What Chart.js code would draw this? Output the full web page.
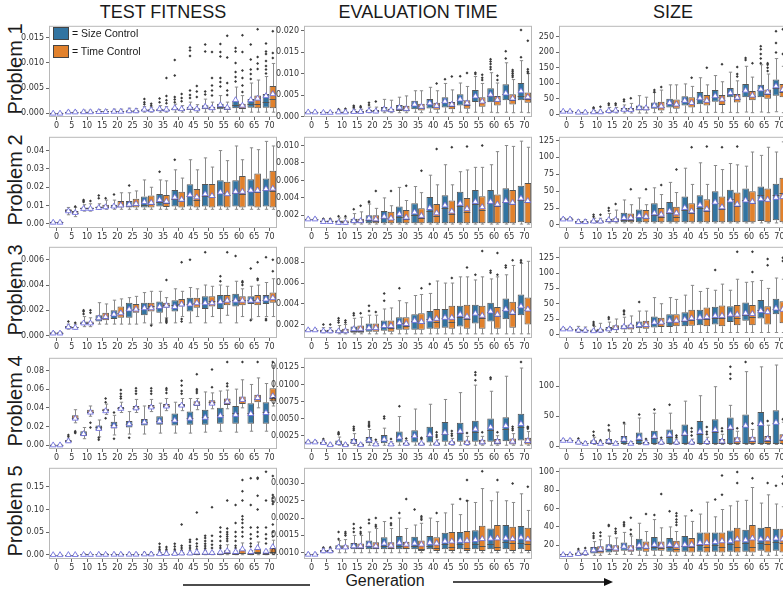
<!DOCTYPE html>
<html>
<head>
<meta charset="utf-8">
<script src="https://cdn.jsdelivr.net/npm/chart.js@4.4.0/dist/chart.umd.min.js"></script>
<style>
  html, body { margin: 0; padding: 0; background: #fff; overflow: hidden; }
  #fig { position: relative; width: 783px; height: 594px; overflow: hidden; font-family: "Liberation Sans", Arial, sans-serif; color: #1a1a1a; }
  .title { position: absolute; top: 2px; font-size: 18px; line-height: 20px; transform: translateX(-50%); white-space: nowrap; }
  .rowlab { position: absolute; left: 15px; font-size: 20px; line-height: 20px; white-space: nowrap; transform: translate(-50%, -50%) rotate(-90deg); }
  .sw { position: absolute; left: 53px; width: 16px; height: 13px; border: 1px solid #444; box-sizing: border-box; }
  .lg { position: absolute; left: 72px; font-size: 10.5px; line-height: 13px; white-space: nowrap; }
  #gen { position: absolute; left: 385px; top: 572px; font-size: 16px; line-height: 18px; transform: translateX(-50%); }
  canvas { position: absolute; }
</style>
</head>
<body>
<div id="fig">
  <div class="title" style="left:163px">TEST FITNESS</div>
  <div class="title" style="left:418px">EVALUATION TIME</div>
  <div class="title" style="left:673px">SIZE</div>
  <div class="rowlab" style="top:69px">Problem 1</div>
  <div class="rowlab" style="top:180px">Problem 2</div>
  <div class="rowlab" style="top:290px">Problem 3</div>
  <div class="rowlab" style="top:401px">Problem 4</div>
  <div class="rowlab" style="top:511px">Problem 5</div>
  <div id="gen">Generation</div>
  <svg style="position:absolute;left:0;top:0" width="783" height="594">
    <line x1="183" y1="585" x2="310" y2="585" stroke="#111" stroke-width="1.5"/>
    <line x1="453" y1="582" x2="604" y2="582" stroke="#111" stroke-width="1.5"/>
    <polygon points="604,578 613,582 604,586" fill="#111"/>
  </svg>
</div>
<script>
const generations = ['0', '5', '10', '15', '20', '25', '30', '35', '40', '45', '50', '55', '60', '65', '70'];
const seriesNames = ['Size Control', 'Time Control'];

// each row: [low whisker, q1, median, q3, high whisker, mean], one per generation
// outliers: [generation, series (0 size, 1 time), values...]

// ---- TEST FITNESS ----
const fit1Size = [
  [0,0,0,0.00002,0.00005,0.00002],[0.0001,0.0002,0.00025,0.0003,0.0005,0.00027],[0.0001,0.00025,0.0003,0.00035,0.0006,0.0003],[0.0001,0.0003,0.00035,0.0004,0.0007,0.00035],[0.0001,0.0003,0.0004,0.0005,0.0008,0.0004],
  [0.0001,0.0004,0.0005,0.0006,0.001,0.0005],[0.0002,0.0005,0.0006,0.0008,0.0013,0.0008],[0.0002,0.0005,0.0007,0.0009,0.0015,0.0009],[0.0002,0.0006,0.0008,0.0011,0.0018,0.0011],[0.0002,0.0007,0.0009,0.0013,0.0022,0.0012],
  [0.0002,0.0008,0.001,0.0016,0.0028,0.0014],[0.0002,0.0008,0.0012,0.0019,0.0035,0.0017],[0.0002,0.001,0.0016,0.0025,0.0052,0.0027],[0.0002,0.0011,0.0018,0.0028,0.006,0.0027],[0.0002,0.0011,0.0022,0.0038,0.0073,0.0035]
];
const fit1Time = [
  [0,0,0,0.00002,0.00005,0.00002],[0.0001,0.0002,0.00025,0.0003,0.0005,0.00027],[0.0001,0.00025,0.0003,0.00035,0.0006,0.0003],[0.0001,0.0003,0.00035,0.0004,0.0007,0.00035],[0.0001,0.0003,0.0004,0.0005,0.0008,0.0004],
  [0.0001,0.0004,0.0005,0.0006,0.0009,0.0005],[0.0002,0.0005,0.0006,0.0008,0.0012,0.0007],[0.0002,0.0005,0.0006,0.0008,0.0013,0.0008],[0.0002,0.0005,0.0007,0.0009,0.0015,0.0009],[0.0002,0.0006,0.0008,0.001,0.0017,0.0009],
  [0.0002,0.0007,0.0009,0.0013,0.0022,0.0011],[0.0002,0.0007,0.0009,0.0013,0.0022,0.0012],[0.0002,0.0008,0.0011,0.0019,0.0035,0.0016],[0.0002,0.001,0.0019,0.0035,0.0066,0.003],[0.0002,0.001,0.0028,0.0054,0.0099,0.0039]
];
const fit1Out = [
  [30,0,0.0028,0.0022,0.0018],[30,1,0.0019,0.0015],[35,0,0.0029,0.0022],[35,1,0.007,0.0034,0.0026,0.002],
  [40,0,0.0106,0.0075,0.0032,0.0027,0.0022],[40,1,0.0038,0.003,0.0024],[45,0,0.0131,0.0125,0.0114,0.0045,0.0036,0.003],[45,1,0.0054,0.0043,0.0032],
  [50,0,0.0137,0.0123,0.0043,0.0037],[50,1,0.0122,0.007,0.0055,0.0045,0.0035],[55,0,0.0138,0.0122,0.0113,0.007,0.0062,0.0053],[55,1,0.0154,0.0111,0.006,0.0045,0.0036],
  [60,0,0.013,0.0123,0.01,0.0082,0.0072,0.0063],[60,1,0.0155,0.0122,0.0085,0.007,0.0055,0.0042],[65,0,0.0137,0.0107,0.0087,0.0078,0.0068],[65,1,0.0167,0.0112,0.0099,0.0088],
  [70,0,0.0139,0.0123,0.0118,0.0104,0.0094,0.0087,0.0079],[70,1,0.0163,0.012,0.011]
];
const fit1Ticks = [0, 0.005, 0.010, 0.015];

const fit2Size = [
  [0.0005,0.0008,0.001,0.0012,0.0014,0.001],[0.005,0.0065,0.0075,0.008,0.009,0.0072],[0.007,0.008,0.0085,0.009,0.0105,0.0085],[0.008,0.0085,0.009,0.0095,0.011,0.009],[0.008,0.009,0.0095,0.0105,0.013,0.0098],
  [0.008,0.009,0.01,0.0125,0.017,0.0108],[0.008,0.009,0.0105,0.015,0.024,0.0122],[0.008,0.0095,0.012,0.0163,0.024,0.0133],[0.008,0.0095,0.0135,0.0185,0.0295,0.0147],[0.008,0.0095,0.015,0.0217,0.035,0.016],
  [0.008,0.0095,0.0155,0.0218,0.036,0.0165],[0.008,0.0095,0.017,0.0238,0.04,0.0175],[0.008,0.0095,0.017,0.0238,0.0425,0.0178],[0.008,0.0095,0.018,0.0244,0.0415,0.0185],[0.008,0.0095,0.0185,0.0248,0.045,0.0193]
];
const fit2Time = [
  [0.0005,0.0008,0.001,0.0012,0.0014,0.001],[0.004,0.0055,0.006,0.007,0.009,0.0063],[0.007,0.008,0.0085,0.009,0.011,0.0085],[0.008,0.0088,0.0092,0.0105,0.013,0.0094],[0.008,0.009,0.0098,0.0125,0.017,0.0104],
  [0.008,0.009,0.0105,0.0138,0.018,0.0112],[0.008,0.009,0.011,0.0155,0.02,0.0118],[0.008,0.0092,0.0115,0.0158,0.0235,0.0125],[0.008,0.009,0.0125,0.0175,0.025,0.0135],[0.008,0.009,0.013,0.019,0.0295,0.0148],
  [0.008,0.009,0.0145,0.0218,0.031,0.0155],[0.008,0.009,0.016,0.023,0.0345,0.0165],[0.008,0.009,0.0165,0.0262,0.035,0.0178],[0.008,0.009,0.0175,0.0275,0.0405,0.0185],[0.008,0.009,0.018,0.029,0.0425,0.0195]
];
const fit2Out = [
  [5,1,0.0095],[10,0,0.013,0.0125,0.012],[10,1,0.0125],[15,0,0.0155,0.014],[15,1,0.014],[20,0,0.016],[25,0,0.021],[35,0,0.0285],[40,0,0.035]
];
const fit2Ticks = [0, 0.01, 0.02, 0.03, 0.04];

const fit3Size = [
  [0.0001,0.00015,0.0002,0.00025,0.0003,0.0002],[0.0005,0.0006,0.0007,0.00075,0.0009,0.0007],[0.0007,0.0009,0.001,0.0011,0.0015,0.001],[0.0009,0.0011,0.0013,0.0016,0.0026,0.0014],[0.0009,0.0013,0.0016,0.002,0.0028,0.0017],
  [0.0009,0.0014,0.002,0.0026,0.003,0.0021],[0.001,0.0016,0.0022,0.0026,0.0034,0.0022],[0.001,0.0018,0.0022,0.0027,0.0035,0.0023],[0.001,0.0019,0.0024,0.0028,0.0037,0.0023],[0.001,0.0019,0.0025,0.003,0.0038,0.0025],
  [0.001,0.0021,0.0026,0.0031,0.004,0.0026],[0.001,0.0021,0.0027,0.0032,0.004,0.0027],[0.001,0.0023,0.0028,0.0033,0.0043,0.0028],[0.0013,0.0025,0.0028,0.0031,0.0039,0.0028],[0.0015,0.0025,0.0028,0.0032,0.0042,0.0029]
];
const fit3Time = [
  [0.0001,0.00015,0.0002,0.00025,0.0003,0.0002],[0.0005,0.0006,0.00065,0.0007,0.0009,0.00065],[0.0007,0.0009,0.001,0.0011,0.0014,0.001],[0.0009,0.0012,0.0014,0.0018,0.0025,0.0015],[0.0009,0.0014,0.0018,0.0023,0.0029,0.0018],
  [0.0009,0.0018,0.0021,0.0025,0.0031,0.0021],[0.0009,0.0019,0.0023,0.0026,0.0035,0.0022],[0.0014,0.0022,0.0024,0.0026,0.003,0.0024],[0.0015,0.0023,0.0025,0.0029,0.0035,0.0025],[0.0015,0.0022,0.0026,0.003,0.0037,0.0026],
  [0.0015,0.0023,0.0027,0.0031,0.0039,0.0026],[0.0016,0.0024,0.0027,0.0032,0.0039,0.0028],[0.0015,0.0024,0.0028,0.0031,0.0037,0.0028],[0.0015,0.0024,0.0028,0.0032,0.004,0.0028],[0.0015,0.0026,0.0029,0.0034,0.0045,0.003]
];
const fit3Out = [
  [5,0,0.0011],[5,1,0.001],[10,0,0.002,0.0019,0.0017],[10,1,0.002,0.0018],[30,1,0.0008],[35,1,0.0044,0.0013,0.0012,0.0011,0.001],[40,1,0.0058,0.0013,0.0011],
  [45,0,0.006],[50,0,0.0066],[55,0,0.0047,0.0043],[55,1,0.0066],[60,0,0.0063],[60,1,0.0043,0.0042,0.004],[65,0,0.0053,0.0012],[65,1,0.0058,0.0045,0.0044],[70,0,0.0062,0.0013,0.0012],[70,1,0.006,0.0051]
];
const fit3Ticks = [0, 0.002, 0.004, 0.006];

const fit4Size = [
  [0,0.0003,0.0005,0.0007,0.001,0.0005],[0.003,0.004,0.0048,0.0055,0.0065,0.0048],[0.007,0.01,0.012,0.015,0.019,0.0125],[0.009,0.016,0.019,0.021,0.027,0.018],[0.011,0.018,0.022,0.025,0.032,0.021],
  [0.012,0.019,0.023,0.026,0.036,0.023],[0.012,0.021,0.025,0.028,0.042,0.025],[0.013,0.022,0.026,0.031,0.045,0.026],[0.013,0.021,0.027,0.034,0.046,0.027],[0.013,0.022,0.029,0.036,0.05,0.029],
  [0.014,0.022,0.03,0.038,0.057,0.03],[0.015,0.023,0.032,0.04,0.058,0.032],[0.014,0.023,0.034,0.042,0.06,0.033],[0.015,0.023,0.034,0.045,0.065,0.034],[0.015,0.023,0.036,0.046,0.066,0.035]
];
const fit4Time = [
  [0,0.0003,0.0005,0.0007,0.001,0.0005],[0.024,0.027,0.029,0.032,0.038,0.029],[0.031,0.034,0.036,0.038,0.042,0.0355],[0.033,0.036,0.038,0.039,0.044,0.037],[0.035,0.038,0.04,0.041,0.046,0.0395],
  [0.035,0.038,0.04,0.042,0.049,0.04],[0.036,0.039,0.041,0.043,0.049,0.041],[0.037,0.04,0.042,0.044,0.05,0.042],[0.037,0.041,0.043,0.044,0.05,0.043],[0.038,0.042,0.044,0.047,0.05,0.045],
  [0.039,0.043,0.046,0.048,0.056,0.045],[0.039,0.043,0.046,0.05,0.059,0.047],[0.04,0.044,0.048,0.052,0.07,0.049],[0.04,0.046,0.049,0.054,0.072,0.051],[0.042,0.047,0.05,0.061,0.085,0.053]
];
const fit4Out = [
  [5,0,0.011,0.009],[5,1,0.015,0.014,0.013],[10,1,0.024,0.019],[15,0,0.006,0.008],[15,1,0.05,0.046,0.029],[20,0,0.007,0.035],[20,1,0.059,0.055,0.052,0.05],
  [25,0,0.008],[25,1,0.061,0.058,0.055],[30,1,0.061,0.058,0.055],[35,1,0.061,0.059,0.056],[40,1,0.069,0.064,0.058,0.055],[45,1,0.076,0.06,0.058,0.056],
  [50,1,0.081,0.062],[55,1,0.089,0.066,0.063],[60,1,0.089],[65,1,0.089],[70,1,0.089]
];
const fit4Ticks = [0, 0.02, 0.04, 0.06, 0.08];

const fit5Size = [
  [0,0,0,0.0005,0.001,0.0003],[0,0,0.0003,0.0008,0.0015,0.0005],[0,0.0002,0.0005,0.001,0.002,0.0008],[0,0.0002,0.0006,0.0012,0.0025,0.001],[0,0.0003,0.0008,0.0015,0.003,0.0012],
  [0,0.0003,0.0009,0.0017,0.0035,0.0013],[0,0.0004,0.001,0.002,0.004,0.0018],[0,0.0004,0.0011,0.0022,0.0045,0.0025],[0,0.0005,0.0012,0.0025,0.005,0.003],[0,0.0005,0.0013,0.0028,0.0055,0.004],
  [0,0.0005,0.0015,0.003,0.0065,0.0055],[0,0.0005,0.0016,0.0035,0.007,0.006],[0,0.0005,0.0018,0.004,0.008,0.007],[0,0.0005,0.002,0.0045,0.009,0.007],[0,0.0005,0.002,0.005,0.01,0.008]
];
const fit5Time = [
  [0,0,0,0.0005,0.001,0.0003],[0,0,0.0003,0.0008,0.0015,0.0005],[0,0.0002,0.0005,0.001,0.002,0.0008],[0,0.0002,0.0006,0.0012,0.0025,0.001],[0,0.0003,0.0008,0.0015,0.003,0.0012],
  [0,0.0003,0.0009,0.0017,0.0035,0.0013],[0,0.0004,0.001,0.002,0.004,0.0018],[0,0.0004,0.0011,0.0022,0.0045,0.003],[0,0.0005,0.0012,0.0025,0.005,0.004],[0,0.0005,0.0013,0.0028,0.0055,0.006],
  [0,0.0005,0.0015,0.003,0.0065,0.005],[0,0.001,0.003,0.01,0.022,0.009],[0,0.0015,0.004,0.012,0.026,0.013],[0,0.0015,0.005,0.013,0.028,0.016],[0,0.002,0.005,0.015,0.032,0.018]
];
const fit5Out = [
  [30,0,0.005],[30,1,0.005],[35,0,0.024,0.017,0.012,0.008],[35,1,0.017,0.012,0.008],[40,0,0.024,0.018,0.012,0.008],[40,1,0.067,0.02,0.015,0.01],
  [45,0,0.033,0.028,0.02,0.015,0.01],[45,1,0.093,0.034,0.025,0.018,0.012],[50,0,0.042,0.037,0.03,0.024,0.019,0.014,0.01],[50,1,0.105,0.042,0.03,0.022,0.015],
  [55,0,0.06,0.05,0.04,0.03,0.02,0.015],[55,1,0.12,0.058,0.05,0.045,0.04,0.035,0.03],[60,0,0.11,0.07,0.05,0.04,0.03,0.02,0.015],[60,1,0.165,0.14,0.12,0.085,0.078,0.07,0.06,0.05,0.04],
  [65,0,0.169,0.11,0.06,0.045,0.035,0.025,0.018],[65,1,0.17,0.168,0.13,0.1,0.06,0.05,0.04],[70,0,0.183,0.12,0.06,0.045,0.035,0.025],[70,1,0.174,0.132,0.125,0.118,0.112,0.067,0.05,0.04]
];
const fit5Ticks = [0, 0.05, 0.10, 0.15];

// ---- EVALUATION TIME ----
const eval1Size = [
  [0.001,0.0011,0.0011,0.0012,0.0012,0.0011],[0.0009,0.001,0.001,0.0011,0.0012,0.001],[0.0009,0.001,0.0011,0.0012,0.0015,0.0011],[0.0009,0.001,0.0011,0.0013,0.0016,0.0012],[0.0009,0.0011,0.0013,0.0016,0.0022,0.0014],
  [0.0009,0.0012,0.0015,0.0022,0.004,0.0018],[0.0009,0.0013,0.0018,0.0027,0.0045,0.0022],[0.001,0.0017,0.0026,0.0037,0.006,0.0029],[0.001,0.0019,0.003,0.0041,0.0068,0.0032],[0.001,0.0021,0.0033,0.0045,0.0077,0.0036],
  [0.001,0.0026,0.0038,0.0052,0.0078,0.0041],[0.001,0.0034,0.0045,0.0062,0.0093,0.0048],[0.001,0.0033,0.0048,0.0066,0.0102,0.0052],[0.001,0.0038,0.0052,0.0075,0.0125,0.0055],[0.001,0.0038,0.0048,0.0078,0.013,0.006]
];
const eval1Time = [
  [0.001,0.0011,0.0011,0.0012,0.0012,0.0011],[0.0009,0.001,0.001,0.0011,0.0012,0.001],[0.0009,0.001,0.0011,0.0012,0.0015,0.0011],[0.0009,0.001,0.0011,0.0013,0.0017,0.0012],[0.0009,0.001,0.0012,0.0015,0.0022,0.0013],
  [0.0009,0.0011,0.0013,0.0018,0.0038,0.0016],[0.0009,0.0012,0.0016,0.0025,0.0048,0.0019],[0.0009,0.0014,0.0021,0.003,0.006,0.0024],[0.0009,0.0016,0.0022,0.0032,0.006,0.0026],[0.0009,0.0017,0.0025,0.0034,0.0062,0.0029],
  [0.0009,0.0018,0.0028,0.0038,0.007,0.0032],[0.0009,0.0023,0.0033,0.0045,0.0077,0.0036],[0.0009,0.0026,0.0036,0.0048,0.0078,0.004],[0.0009,0.0028,0.0038,0.0052,0.0086,0.0043],[0.0009,0.0032,0.0042,0.0056,0.01,0.0046]
];
const eval1Out = [
  [10,0,0.0017],[10,1,0.0018],[15,0,0.0025,0.0022,0.002],[15,1,0.0024,0.0021],[20,0,0.0032,0.0027],[20,1,0.0035],[40,1,0.0077],[45,0,0.0087],[45,1,0.0093],
  [50,0,0.0094],[50,1,0.0101],[55,0,0.0102,0.0099],[55,1,0.0097,0.009,0.0085],[60,0,0.0133,0.0128,0.0122,0.0115,0.011],[60,1,0.0095,0.0085],
  [65,0,0.0152,0.0135],[65,1,0.0108,0.0104,0.01,0.0096,0.0092],[70,0,0.0201,0.0138],[70,1,0.0176,0.011,0.0105,0.0101]
];
const eval1Ticks = [0, 0.005, 0.010, 0.015, 0.020];

const eval2Size = [
  [0.0015,0.0015,0.0016,0.0016,0.0017,0.0016],[0.0012,0.0013,0.0013,0.0014,0.0015,0.0013],[0.001,0.0011,0.0013,0.0014,0.0017,0.0012],[0.001,0.0011,0.0013,0.0016,0.0022,0.0014],[0.001,0.0011,0.0015,0.002,0.0033,0.0017],
  [0.001,0.0011,0.0017,0.0025,0.004,0.0019],[0.001,0.0011,0.0018,0.003,0.0052,0.0022],[0.001,0.0011,0.002,0.0034,0.0053,0.0024],[0.001,0.0011,0.0025,0.0041,0.0066,0.0029],[0.001,0.0011,0.0028,0.0043,0.0078,0.0032],
  [0.001,0.0011,0.0031,0.0047,0.007,0.0034],[0.001,0.0011,0.0033,0.0049,0.0075,0.0036],[0.001,0.0011,0.0034,0.0049,0.0078,0.0036],[0.001,0.0011,0.0035,0.0051,0.01,0.0037],[0.001,0.0012,0.0038,0.0054,0.0105,0.004]
];
const eval2Time = [
  [0.0015,0.0015,0.0016,0.0016,0.0017,0.0016],[0.0012,0.0013,0.0013,0.0014,0.0015,0.0013],[0.001,0.0011,0.0012,0.0014,0.0017,0.0012],[0.001,0.0011,0.0013,0.0016,0.0024,0.0014],[0.001,0.0011,0.0014,0.002,0.0028,0.0016],
  [0.001,0.0011,0.0016,0.0024,0.0031,0.0017],[0.001,0.0011,0.0016,0.0026,0.0037,0.0018],[0.001,0.0011,0.0017,0.0028,0.0046,0.002],[0.001,0.0011,0.0019,0.0033,0.0055,0.0023],[0.001,0.0011,0.0022,0.0037,0.0055,0.0025],
  [0.001,0.0011,0.0024,0.004,0.0072,0.0028],[0.001,0.0011,0.0026,0.0042,0.0075,0.003],[0.001,0.0011,0.0031,0.0044,0.0093,0.0033],[0.001,0.0011,0.0033,0.0049,0.0099,0.0035],[0.001,0.0011,0.0035,0.0057,0.0098,0.0037]
];
const eval2Out = [
  [5,0,0.0016],[5,1,0.0016],[10,0,0.0019],[10,1,0.0019],[15,0,0.0027],[15,1,0.0031],[20,0,0.0036,0.0035],[20,1,0.0048],[25,1,0.0048],[30,1,0.0054],
  [35,1,0.0071],[40,1,0.0096],[45,1,0.0098],[50,1,0.0099],[55,1,0.01]
];
const eval2Ticks = [0.002, 0.004, 0.006, 0.008, 0.010];

const eval3Size = [
  [0.0014,0.0014,0.0015,0.0015,0.0016,0.0015],[0.0012,0.0013,0.0014,0.0015,0.0017,0.0014],[0.0011,0.0012,0.0013,0.0015,0.0019,0.0014],[0.0011,0.0012,0.0014,0.0018,0.0026,0.0016],[0.0011,0.0013,0.0016,0.0021,0.0029,0.0017],
  [0.0011,0.0014,0.0018,0.0024,0.0035,0.0019],[0.0011,0.0015,0.0021,0.0027,0.0043,0.0022],[0.0011,0.0015,0.0023,0.003,0.0048,0.0024],[0.0011,0.0016,0.0025,0.0033,0.005,0.0025],[0.0011,0.0017,0.0026,0.0035,0.006,0.0027],
  [0.0011,0.0018,0.0027,0.0038,0.0066,0.003],[0.0011,0.0021,0.003,0.0039,0.0063,0.0031],[0.0011,0.0023,0.0032,0.0041,0.0064,0.0033],[0.0011,0.0025,0.0034,0.0045,0.0068,0.0035],[0.0011,0.0029,0.0037,0.0049,0.0079,0.0038]
];
const eval3Time = [
  [0.0014,0.0014,0.0015,0.0015,0.0016,0.0015],[0.0012,0.0013,0.0014,0.0015,0.0017,0.0014],[0.0011,0.0012,0.0013,0.0016,0.002,0.0014],[0.0011,0.0012,0.0014,0.0019,0.0027,0.0016],[0.0011,0.0013,0.0016,0.0021,0.0029,0.0017],
  [0.0011,0.0013,0.0017,0.0024,0.0036,0.0019],[0.0011,0.0015,0.0019,0.0027,0.0041,0.0021],[0.0011,0.0015,0.0021,0.0031,0.0049,0.0023],[0.0011,0.0016,0.0022,0.0035,0.0062,0.0026],[0.0011,0.0016,0.0022,0.0038,0.006,0.0027],
  [0.0011,0.0016,0.0025,0.0039,0.0066,0.0028],[0.0011,0.0016,0.0026,0.0038,0.0066,0.0029],[0.0011,0.0016,0.0028,0.0037,0.0066,0.003],[0.0011,0.0017,0.003,0.0042,0.0077,0.0032],[0.0011,0.002,0.0034,0.0046,0.0081,0.0035]
];
const eval3Out = [
  [5,0,0.002],[5,1,0.002],[10,0,0.0026,0.0024,0.0022],[10,1,0.0024,0.0022],[15,0,0.0031,0.0029],[15,1,0.0031],[20,0,0.0038,0.0033],[20,1,0.0032],[25,0,0.005,0.0043],
  [30,0,0.0055],[35,1,0.0055],[40,0,0.0059],[45,1,0.0065],[50,1,0.0075],[55,0,0.0068],[55,1,0.0091],[60,0,0.0072,0.007],[60,1,0.0089,0.0068],[65,0,0.0077,0.0075],[65,1,0.0082],[70,0,0.0082,0.008]
];
const eval3Ticks = [0.002, 0.004, 0.006, 0.008];

const eval4Size = [
  [0.0015,0.0016,0.0016,0.0017,0.0018,0.0016],[0.0013,0.0014,0.0015,0.0016,0.0018,0.0015],[0.0011,0.0013,0.0015,0.0018,0.0023,0.0015],[0.0011,0.0013,0.0016,0.002,0.0028,0.0017],[0.0011,0.0014,0.0018,0.0023,0.0034,0.0019],
  [0.0011,0.0014,0.0019,0.0026,0.0036,0.002],[0.0011,0.0015,0.0022,0.0031,0.0053,0.0023],[0.0011,0.0015,0.0024,0.0033,0.0064,0.0025],[0.0011,0.0015,0.0025,0.0038,0.0071,0.0027],[0.0011,0.0016,0.0027,0.0045,0.0078,0.003],
  [0.0011,0.0016,0.0029,0.0044,0.0088,0.0032],[0.0011,0.0016,0.0031,0.0047,0.0099,0.0035],[0.0011,0.0016,0.0034,0.005,0.009,0.0038],[0.0011,0.0017,0.0035,0.0052,0.0112,0.004],[0.0011,0.0018,0.0038,0.0057,0.0124,0.0043]
];
const eval4Time = [
  [0.0015,0.0016,0.0016,0.0017,0.0018,0.0016],[0.0011,0.0012,0.0012,0.0013,0.0014,0.0012],[0.0011,0.0011,0.0012,0.0013,0.0014,0.0012],[0.0011,0.0011,0.0012,0.0013,0.0014,0.0012],[0.0011,0.0012,0.0012,0.0014,0.0016,0.0013],
  [0.0011,0.0012,0.0012,0.0014,0.0016,0.0013],[0.0011,0.0012,0.0013,0.0015,0.0018,0.0014],[0.0011,0.0012,0.0013,0.0015,0.0019,0.0014],[0.0011,0.0012,0.0013,0.0015,0.0019,0.0014],[0.0011,0.0012,0.0014,0.0017,0.0021,0.0015],
  [0.0011,0.0012,0.0014,0.0018,0.0024,0.0015],[0.0011,0.0012,0.0014,0.0019,0.0024,0.0016],[0.0011,0.0012,0.0015,0.002,0.0025,0.0017],[0.0011,0.0012,0.0016,0.0021,0.0028,0.0017],[0.0011,0.0012,0.0016,0.0022,0.0031,0.0018]
];
const eval4Out = [
  [5,0,0.002],[10,0,0.003,0.0028,0.0027],[15,0,0.0038,0.0035,0.0033],[20,0,0.0045,0.0042,0.004,0.0038],[20,1,0.0019],[25,0,0.0053,0.005],[25,1,0.002],
  [30,0,0.0068],[30,1,0.0021],[35,1,0.0022,0.0021],[40,1,0.003,0.0026,0.0023],[45,1,0.0032,0.0028,0.0025],[50,1,0.0029],[55,0,0.0118,0.0114,0.0106],[55,1,0.003],
  [60,0,0.011,0.0108],[60,1,0.003],[65,1,0.0038,0.0035,0.0033],[70,0,0.0133],[70,1,0.0038,0.0037,0.0035]
];
const eval4Ticks = [0.0025, 0.0050, 0.0075, 0.0100, 0.0125];

const eval5Size = [
  [0.00093,0.00095,0.00096,0.00097,0.00099,0.00096],[0.001,0.00103,0.00105,0.00108,0.00112,0.00106],[0.001,0.0011,0.00113,0.00122,0.00135,0.00117],[0.001,0.0011,0.00117,0.00128,0.0015,0.0012],[0.001,0.0011,0.0012,0.00135,0.0016,0.00125],
  [0.001,0.0011,0.0012,0.00145,0.0019,0.00128],[0.001,0.0011,0.0012,0.00148,0.002,0.0013],[0.001,0.0011,0.0012,0.00146,0.0018,0.00128],[0.001,0.0011,0.0012,0.00148,0.002,0.0013],[0.001,0.0011,0.00125,0.00158,0.00215,0.00134],
  [0.001,0.0011,0.00125,0.0016,0.0021,0.00136],[0.001,0.0011,0.00125,0.00165,0.00245,0.00138],[0.001,0.0011,0.00125,0.0017,0.0025,0.00142],[0.001,0.0011,0.0013,0.0018,0.0025,0.00143],[0.001,0.0011,0.00128,0.00177,0.0027,0.00145]
];
const eval5Time = [
  [0.00093,0.00095,0.00096,0.00097,0.00099,0.00096],[0.001,0.00103,0.00105,0.00108,0.00112,0.00106],[0.001,0.0011,0.00115,0.00122,0.00138,0.00117],[0.001,0.0011,0.00115,0.00127,0.0015,0.0012],[0.001,0.0011,0.00115,0.0013,0.0017,0.0012],
  [0.001,0.0011,0.00115,0.0013,0.0017,0.00122],[0.001,0.0011,0.00115,0.00132,0.0017,0.00125],[0.001,0.00105,0.00112,0.00135,0.00185,0.00125],[0.001,0.00105,0.00115,0.00145,0.0019,0.00128],[0.001,0.00105,0.00118,0.0016,0.0024,0.00134],
  [0.001,0.00105,0.00115,0.00163,0.0025,0.00136],[0.001,0.00105,0.0012,0.00178,0.00285,0.00141],[0.001,0.00105,0.00118,0.0018,0.00275,0.00143],[0.001,0.00105,0.00128,0.00175,0.00245,0.00141],[0.001,0.00105,0.00125,0.00172,0.00222,0.0014]
];
const eval5Out = [
  [5,0,0.00115],[5,1,0.00116],[10,0,0.0016,0.0014],[10,1,0.0016,0.00155,0.0015],[15,0,0.00183,0.0017,0.0016],[15,1,0.00172,0.0016,0.00155],[20,0,0.00195,0.00185],[20,1,0.002,0.0018,0.00175],
  [25,1,0.002,0.00185,0.0018],[30,0,0.00215],[30,1,0.00255],[35,0,0.00225],[35,1,0.00205,0.002,0.00195],[40,1,0.00215],[50,0,0.00255],[50,1,0.0031,0.0025],[55,1,0.00335],[60,1,0.0031],[65,1,0.003],[70,1,0.0029]
];
const eval5Ticks = [0.0010, 0.0015, 0.0020, 0.0025, 0.0030];

// ---- SIZE ----
const size1Size = [
  [8,9,10,11,12,10],[4,6,7,8,10,7],[4,6,7,9,12,8],[4,8,10,13,22,12],[4,10,14,20,30,16],
  [4,12,18,28,60,22],[5,18,25,38,70,29],[5,22,35,50,95,38],[5,28,42,58,98,45],[6,32,48,72,118,53],
  [6,40,55,78,125,60],[6,55,65,85,136,70],[7,55,75,98,155,78],[7,55,78,95,160,82],[8,60,85,112,180,92]
];
const size1Time = [
  [8,9,10,11,12,10],[4,6,7,8,10,7],[4,6,7,9,13,8],[4,8,11,14,22,13],[4,10,13,20,35,15],
  [4,12,17,25,55,21],[5,12,22,40,78,27],[5,18,30,48,95,33],[5,22,35,55,90,38],[5,28,42,62,95,45],
  [5,30,45,62,105,49],[5,38,50,65,108,55],[5,45,60,75,120,62],[5,50,65,80,130,72],[5,55,72,98,155,80]
];
const size1Out = [
  [10,0,18,22],[10,1,24],[15,0,35,30],[15,1,35,30],[20,0,42,48],[20,1,52],[30,0,78,72],[30,1,88],[40,1,118],[45,1,150],[50,1,162],[55,1,153,130,122],
  [60,0,182,175],[60,1,165],[65,0,220,210,195,180,165],[65,1,165,160,150,140],[70,0,268,230,200],[70,1,275,195]
];
const size1Ticks = [0, 50, 100, 150, 200, 250];

const size2Size = [
  [7,8,9,10,11,9],[3,4,5,6,8,5],[3,4,5,7,10,6],[3,4,6,9,17,8],[3,4,7,18,37,11],
  [3,4,12,23,40,14],[3,4,15,32,55,18],[3,4,17,34,63,21],[3,4,22,42,84,26],[3,4,25,44,92,30],
  [3,4,33,50,88,34],[3,4,38,52,91,37],[3,4,37,54,87,37],[3,6,45,57,103,39],[3,7,45,61,108,41]
];
const size2Time = [
  [7,8,9,10,11,9],[3,4,5,6,8,5],[3,4,5,7,10,6],[3,4,6,10,22,8],[3,4,8,17,30,11],
  [3,4,10,22,30,13],[3,4,12,25,45,16],[3,4,12,27,48,18],[3,4,18,32,60,21],[3,4,20,38,60,24],
  [3,4,23,42,82,27],[3,4,28,48,89,31],[3,4,33,50,108,35],[3,4,37,54,115,38],[3,4,47,70,123,42]
];
const size2Out = [
  [10,0,15,12],[10,1,15],[15,0,25,21],[15,1,31],[20,1,53],[25,1,53],[30,1,59],[35,1,82],[40,1,115],[45,1,116],[50,1,115],[55,1,116]
];
const size2Ticks = [0, 25, 50, 75, 100, 125];

const size3Size = [
  [8,9,9,10,11,9],[3,5,7,9,13,7],[3,4,6,8,13,6],[3,6,8,12,20,9],[3,8,11,15,28,13],
  [3,10,15,21,38,16],[3,11,18,29,60,20],[3,12,20,33,60,23],[3,13,22,36,64,25],[3,15,25,40,70,28],
  [3,16,27,45,72,31],[3,20,30,46,72,33],[3,22,32,52,85,35],[3,26,40,56,88,39],[3,33,42,58,92,43]
];
const size3Time = [
  [8,9,9,10,11,9],[3,5,7,8,12,7],[3,4,7,9,18,7],[3,7,10,15,25,11],[3,8,12,16,30,14],
  [3,9,14,22,38,16],[3,12,18,27,50,20],[3,13,21,33,57,23],[3,14,23,40,80,27],[3,13,25,44,75,29],
  [3,13,27,47,82,31],[3,15,26,48,90,33],[3,15,28,48,86,34],[3,16,35,46,75,37],[3,18,40,54,90,41]
];
const size3Out = [
  [10,0,20,17,15],[15,0,28,25],[20,0,39,37,33],[25,0,53],[50,0,105],[55,1,135],[60,1,135,102],[65,1,123,113],[70,1,125,120]
];
const size3Ticks = [0, 25, 50, 75, 100, 125];

const size4Size = [
  [8,9,10,11,12,10],[4,5,7,8,10,7],[3,4,7,10,15,8],[3,4,7,12,25,9],[3,4,8,17,37,12],
  [3,4,10,23,47,15],[3,4,13,26,55,17],[3,4,15,28,55,20],[3,4,18,36,75,22],[3,4,20,42,84,25],
  [3,4,23,45,99,28],[3,4,28,48,68,32],[3,4,33,53,124,35],[3,4,35,57,132,38],[3,4,38,60,135,40]
];
const size4Time = [
  [8,9,10,11,12,10],[3,4,5,6,8,5],[3,4,5,6,8,5],[3,4,5,6,8,5],[3,4,5,6,8,5],
  [3,4,5,7,10,6],[3,4,5,8,11,7],[3,4,5,8,12,7],[3,4,5,8,12,7],[3,4,6,9,15,8],
  [3,4,6,12,20,9],[3,4,8,15,25,11],[3,4,8,16,28,12],[3,4,9,17,35,13],[3,4,10,20,40,14]
];
const size4Out = [
  [5,0,13],[10,0,24,18],[10,1,10],[15,0,35,27],[20,0,39],[25,0,53],[25,1,12],[30,0,61],[30,1,14],[35,0,69],[35,1,18,15],[40,1,30,24,18],
  [45,1,32,24,20],[50,1,30,25],[55,0,132,120,112],[55,1,30],[60,0,140],[60,1,38],[65,1,42],[70,1,45]
];
const size4Ticks = [0, 50, 100];

const size5Size = [
  [8,9,10,10,11,10],[9,10,11,12,14,11],[9,11,14,18,24,15],[10,12,16,21,30,18],[10,14,18,23,34,19],
  [9,14,18,27,44,20],[9,14,18,29,48,21],[9,13,18,28,40,21],[9,13,19,30,52,21],[9,13,20,34,54,23],
  [9,13,20,34,51,24],[9,13,21,36,63,25],[9,13,22,37,69,26],[9,14,22,39,66,27],[9,14,24,38,65,28]
];
const size5Time = [
  [8,9,10,10,11,10],[9,10,11,12,14,12],[9,11,14,19,26,16],[10,13,16,20,28,17],[10,13,16,20,30,17],
  [9,13,17,24,35,19],[9,14,17,24,39,20],[9,12,16,25,35,20],[9,12,18,28,46,21],[9,12,18,34,67,23],
  [9,12,18,34,59,25],[9,12,18,39,68,27],[9,12,18,42,83,28],[9,12,21,40,75,27],[9,12,22,38,62,27]
];
const size5Out = [
  [5,0,16],[5,1,17],[10,0,33,30,28],[10,1,34,30],[15,0,42,41],[15,1,38,35,33],[20,0,45,43,41],[20,1,50,37,32],[25,1,54],[30,0,53],[30,1,76],
  [35,0,57],[35,1,55,52,48,45,42],[40,1,58],[50,0,70],[50,1,96,75],[55,1,100,88],[60,1,93],[65,1,88],[70,0,85],[70,1,95,87]
];
const size5Ticks = [20, 40, 60, 80, 100];

const panels = [
  { row: 0, col: 0, size: fit1Size, time: fit1Time, out: fit1Out, ticks: fit1Ticks, min: -0.00076, max: 0.0174, dec: 3 },
  { row: 1, col: 0, size: fit2Size, time: fit2Time, out: fit2Out, ticks: fit2Ticks, min: -0.0022, max: 0.0475, dec: 2 },
  { row: 2, col: 0, size: fit3Size, time: fit3Time, out: fit3Out, ticks: fit3Ticks, min: -0.0002, max: 0.00703, dec: 3 },
  { row: 3, col: 0, size: fit4Size, time: fit4Time, out: fit4Out, ticks: fit4Ticks, min: -0.004, max: 0.0935, dec: 2 },
  { row: 4, col: 0, size: fit5Size, time: fit5Time, out: fit5Out, ticks: fit5Ticks, min: -0.0095, max: 0.192, dec: 2 },
  { row: 0, col: 1, size: eval1Size, time: eval1Time, out: eval1Out, ticks: eval1Ticks, min: -0.0001, max: 0.0211, dec: 3 },
  { row: 1, col: 1, size: eval2Size, time: eval2Time, out: eval2Out, ticks: eval2Ticks, min: 0.00055, max: 0.011, dec: 3 },
  { row: 2, col: 1, size: eval3Size, time: eval3Time, out: eval3Out, ticks: eval3Ticks, min: 0.0007, max: 0.0095, dec: 3 },
  { row: 3, col: 1, size: eval4Size, time: eval4Time, out: eval4Out, ticks: eval4Ticks, min: 0.00055, max: 0.0139, dec: 4 },
  { row: 4, col: 1, size: eval5Size, time: eval5Time, out: eval5Out, ticks: eval5Ticks, min: 0.00082, max: 0.00345, dec: 4 },
  { row: 0, col: 2, size: size1Size, time: size1Time, out: size1Out, ticks: size1Ticks, min: -9, max: 286, dec: 0 },
  { row: 1, col: 2, size: size2Size, time: size2Time, out: size2Out, ticks: size2Ticks, min: -4.5, max: 130.5, dec: 0 },
  { row: 2, col: 2, size: size3Size, time: size3Time, out: size3Out, ticks: size3Ticks, min: -6, max: 143, dec: 0 },
  { row: 3, col: 2, size: size4Size, time: size4Time, out: size4Out, ticks: size4Ticks, min: -4.5, max: 147, dec: 0 },
  { row: 4, col: 2, size: size5Size, time: size5Time, out: size5Out, ticks: size5Ticks, min: 5, max: 104.5, dec: 0 },
];

const colors = ['#3274a1', '#e1812c'];
const colLeft = [49, 304, 559];
const rowTop = [21, 132, 242, 353, 463];
const plotW = 228, plotH = 96, yAxisW = 45, xAxisH = 18;
const edgeGray = '#555555', whiskerGray = '#8a8a8a';
const tickFont = { family: 'DejaVu Sans', size: 8 };

// whiskers, medians, means and fliers drawn through the chart's own scales
const boxExtras = {
  id: 'boxExtras',
  beforeDatasetsDraw(chart) {
    const ctx = chart.ctx, y = chart.scales.y;
    ctx.save();
    ctx.strokeStyle = whiskerGray;
    ctx.lineWidth = 1;
    chart.data.datasets.forEach((ds, d) => {
      chart.getDatasetMeta(d).data.forEach((bar, i) => {
        const s = ds.stats[i];
        const x = Math.round(bar.x) + 0.5, cap = bar.width / 4;
        const lo = y.getPixelForValue(s[0]), hi = y.getPixelForValue(s[4]);
        ctx.beginPath();
        ctx.moveTo(x, lo); ctx.lineTo(x, y.getPixelForValue(s[1]));
        ctx.moveTo(x, hi); ctx.lineTo(x, y.getPixelForValue(s[3]));
        ctx.moveTo(x - cap, lo); ctx.lineTo(x + cap, lo);
        ctx.moveTo(x - cap, hi); ctx.lineTo(x + cap, hi);
        ctx.stroke();
      });
    });
    ctx.restore();
  },
  afterDatasetsDraw(chart) {
    const ctx = chart.ctx, y = chart.scales.y, a = chart.chartArea;
    ctx.save();
    chart.data.datasets.forEach((ds, d) => {
      const meta = chart.getDatasetMeta(d);
      meta.data.forEach((bar, i) => {
        const s = ds.stats[i];
        const half = bar.width / 2;
        const m = Math.round(y.getPixelForValue(s[2])) + 0.5;
        ctx.strokeStyle = edgeGray;
        ctx.lineWidth = 1;
        ctx.beginPath();
        ctx.moveTo(bar.x - half, m); ctx.lineTo(bar.x + half, m);
        ctx.stroke();
      });
      // fliers
      ctx.fillStyle = '#3a3a3a';
      ds.outliers.forEach(o => {
        const bar = meta.data[o.i];
        o.vals.forEach(v => {
          const py = y.getPixelForValue(v), r = 1.5;
          ctx.beginPath();
          ctx.moveTo(bar.x, py - r); ctx.lineTo(bar.x + r, py);
          ctx.lineTo(bar.x, py + r); ctx.lineTo(bar.x - r, py);
          ctx.closePath();
          ctx.fill();
        });
      });
      // means
      meta.data.forEach((bar, i) => {
        const py = y.getPixelForValue(ds.stats[i][5]), r = 2.9;
        ctx.beginPath();
        ctx.moveTo(bar.x, py - r);
        ctx.lineTo(bar.x + r, py + r * 0.7);
        ctx.lineTo(bar.x - r, py + r * 0.7);
        ctx.closePath();
        ctx.fillStyle = '#ffffff';
        ctx.fill();
        ctx.strokeStyle = '#6464dc';
        ctx.lineWidth = 0.8;
        ctx.stroke();
      });
    });
    // frame
    ctx.strokeStyle = '#b8b8b8';
    ctx.lineWidth = 1;
    ctx.strokeRect(a.left + 0.5, a.top + 0.5, a.right - a.left - 1, a.bottom - a.top - 1);
    ctx.restore();
  }
};

const fig = document.getElementById('fig');

function makePanel(p) {
  const w = plotW + yAxisW + 2, h = plotH + 2 + xAxisH;
  const canvas = document.createElement('canvas');
  canvas.width = w;
  canvas.height = h;
  canvas.style.left = (colLeft[p.col] - yAxisW) + 'px';
  canvas.style.top = (rowTop[p.row] - 2) + 'px';
  canvas.style.width = w + 'px';
  canvas.style.height = h + 'px';
  fig.appendChild(canvas);

  const datasets = [p.size, p.time].map((stats, d) => ({
    label: seriesNames[d],
    data: stats.map(s => [s[1], s[3]]),
    stats: stats,
    outliers: p.out.filter(o => o[1] === d).map(o => ({ i: generations.indexOf(String(o[0])), vals: o.slice(2) })),
    backgroundColor: colors[d],
    borderColor: edgeGray,
    borderWidth: 1,
    borderSkipped: false,
    categoryPercentage: 0.9,
    barPercentage: 0.97,
  }));

  new Chart(canvas, {
    type: 'bar',
    data: { labels: generations, datasets: datasets },
    options: {
      responsive: false,
      devicePixelRatio: 1,
      animation: false,
      layout: { padding: { top: 2, right: 2, left: 0, bottom: 0 } },
      plugins: { legend: { display: false }, tooltip: { enabled: false } },
      scales: {
        x: {
          type: 'category',
          offset: true,
          grid: { display: true, drawOnChartArea: false, drawTicks: true, tickLength: 3, color: '#666', offset: false },
          border: { display: false },
          ticks: { font: tickFont, color: '#333', padding: 1, maxRotation: 0, autoSkip: false },
          afterFit: (s) => { s.height = xAxisH; },
        },
        y: {
          type: 'linear',
          min: p.min,
          max: p.max,
          afterBuildTicks: (s) => { s.ticks = p.ticks.map(v => ({ value: v })); },
          grid: { display: true, drawOnChartArea: false, drawTicks: true, tickLength: 3, color: '#666' },
          border: { display: false },
          ticks: { font: tickFont, color: '#333', padding: 2, callback: (v) => Number(v).toFixed(p.dec) },
          afterFit: (s) => { s.width = yAxisW; },
        },
      },
    },
    plugins: [boxExtras],
  });
}

panels.forEach(makePanel);

// legend inside the first panel
[['#3274a1', 27, '= Size Control'], ['#e1812c', 45, '= Time Control']].forEach(([c, top, text]) => {
  const sw = document.createElement('div');
  sw.className = 'sw';
  sw.style.top = top + 'px';
  sw.style.background = c;
  fig.appendChild(sw);
  const lg = document.createElement('div');
  lg.className = 'lg';
  lg.style.top = top + 'px';
  lg.textContent = text;
  fig.appendChild(lg);
});
</script>
</body>
</html>
